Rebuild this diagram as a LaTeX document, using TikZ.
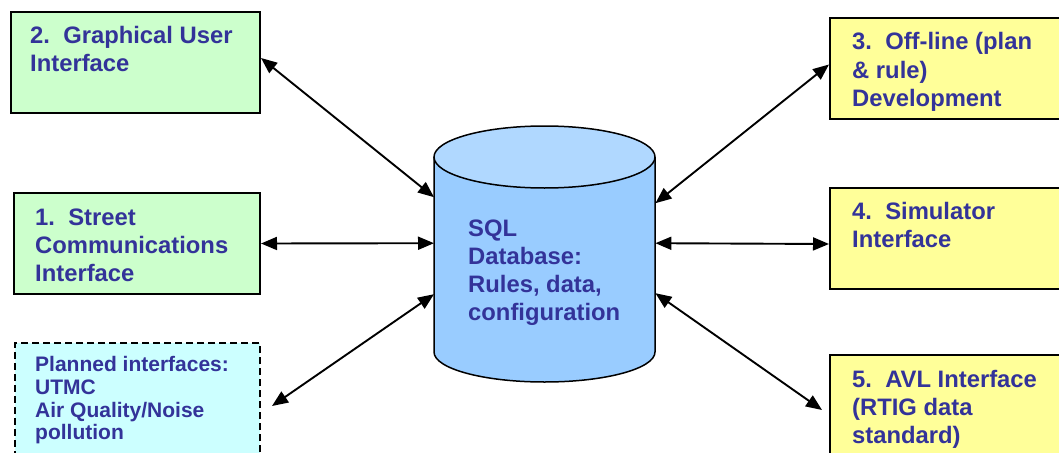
\documentclass[tikz,border=0pt]{standalone}
\usepackage{fontspec}
\setmainfont{Liberation Sans}
\usetikzlibrary{arrows.meta,calc}
\definecolor{txtblue}{HTML}{333399}
\definecolor{boxgreen}{HTML}{CCFFCC}
\definecolor{boxyellow}{HTML}{FFFF99}
\definecolor{boxcyan}{HTML}{CCFFFF}
\definecolor{dbbody}{HTML}{99CCFF}
\definecolor{dbtop}{HTML}{B0D8FF}
\tikzset{
  box/.style={draw=black, line width=2pt, rectangle, anchor=north west, inner sep=0pt},
  txt/.style={anchor=base west, inner sep=0pt, text=txtblue, font=\bfseries\fontsize{23.8}{28.3}\selectfont},
  smalltxt/.style={anchor=base west, inner sep=0pt, text=txtblue, font=\bfseries\fontsize{21}{22.7}\selectfont},
  link/.style={line width=1.9pt, black, {Triangle[length=16pt,width=13pt]}-{Triangle[length=16pt,width=13pt]}},
}
\newcommand{\twosp}{\hspace{0.556em}}
\begin{document}
\begin{tikzpicture}[x=1pt,y=-1pt]
\clip (0,0) rectangle (1059,452);
\fill[white] (0,0) rectangle (1059,452);

% left boxes
\node[box, fill=boxgreen, minimum width=249pt, minimum height=101pt] (gui) at (10,11) {};
\node[box, fill=boxgreen, minimum width=246pt, minimum height=101pt] (street) at (13,192) {};
\node[box, fill=boxcyan, dash pattern=on 7pt off 4pt, line width=2pt, minimum width=245pt, minimum height=128pt] (planned) at (14,342) {};

% right boxes
\node[box, fill=boxyellow, minimum width=245pt, minimum height=101pt] (offline) at (829,17) {};
\node[box, fill=boxyellow, minimum width=245pt, minimum height=101pt] (sim) at (829,187) {};
\node[box, fill=boxyellow, minimum width=245pt, minimum height=120pt] (avl) at (829,354) {};

% texts
\node[txt] (guit) at (30,43.3) {\parbox[t]{225pt}{2.\twosp Graphical User\\Interface}};
\node[txt] (streett) at (35,225) {\parbox[t]{222pt}{1.\twosp Street\\Communications\\Interface}};
\begin{scope}
\clip (0,0) rectangle (1059,445);
\node[smalltxt] (plannedt) at (35,371.7) {\parbox[t]{222pt}{Planned interfaces:\\UTMC\\Air Quality/Noise\\pollution}};
\end{scope}
\node[txt] (offlinet) at (852,50) {\parbox[t]{205pt}{3.\twosp Off-line (plan\\\& rule)\\Development}};
\node[txt] (simt) at (852,219) {\parbox[t]{205pt}{4.\twosp Simulator\\Interface}};
\node[txt] (avlt) at (852,387) {\parbox[t]{205pt}{5.\twosp AVL Interface\\(RTIG data\\standard)}};

% database cylinder
\fill[dbbody] (434,157) -- (434,352) arc[start angle=180, end angle=360, x radius=110.5pt, y radius=30pt] -- (655,157) -- cycle;
\draw[line width=1.5pt] (434,157) -- (434,352) arc[start angle=180, end angle=360, x radius=110.5pt, y radius=30pt] -- (655,157);
\draw[line width=1.5pt, fill=dbtop] (544.5,157) ellipse [x radius=110.5pt, y radius=31pt];
\node[rectangle, inner sep=0pt, minimum width=221pt, minimum height=257pt, anchor=north west] (db) at (434,125) {};
\node[txt] (dbt) at (468,236) {\parbox[t]{180pt}{SQL\\Database:\\Rules, data,\\configuration}};

% connectors
\draw[link] ([yshift=4.5pt]gui.east) -- ([yshift=56.5pt]db.west);
\draw[link] (street.east) -- ([yshift=10.5pt]db.west);
\draw[link] ([xshift=11pt,yshift=1pt]planned.east) -- ([yshift=-40.5pt]db.west);
\draw[link] ([yshift=4pt]offline.west) -- ([yshift=50.5pt]db.east);
\draw[link] ([yshift=-5.5pt]sim.west) -- ([yshift=10.5pt]db.east);
\draw[link] ([xshift=-7pt,yshift=5pt]avl.west) -- ([yshift=-39.5pt]db.east);
\end{tikzpicture}
\end{document}
